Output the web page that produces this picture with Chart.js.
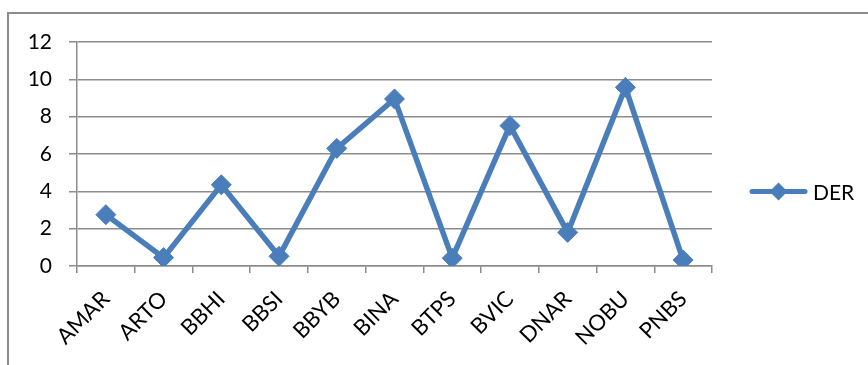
<!DOCTYPE html>
<html>
<head>
<meta charset="utf-8">
<script src="https://cdn.jsdelivr.net/npm/chart.js@4.4.1/dist/chart.umd.min.js"></script>
<style>
    html, body { margin: 0; padding: 0; background: #fff; }
    #wrap { position: relative; width: 868px; height: 365px; overflow: hidden; }
    #frame {
        position: absolute; left: 7px; top: 12px; width: 900px; height: 400px;
        border-left: 2px solid #8c8c8c; border-top: 2px solid #8c8c8c;
    }
    canvas { position: absolute; left: 0; top: 0; }
</style>
</head>
<body>
<div id="wrap">
    <div id="frame"></div>
    <canvas id="der-chart" width="868" height="365"></canvas>
</div>
<script>
const EMITEN = ["AMAR", "ARTO", "BBHI", "BBSI", "BBYB", "BINA", "BTPS", "BVIC", "DNAR", "NOBU", "PNBS"];
const DER = [2.75, 0.45, 4.35, 0.52, 6.3, 8.95, 0.42, 7.52, 1.8, 9.57, 0.32];
const SERIES_LABEL = "DER";
const Y_MIN = 0;
const Y_MAX = 12;
const Y_STEP = 2;

const BLUE = "#4a7ebb";
const GRID = "#8c8c8c";
const FONT = "Lato, 'Open Sans', sans-serif";

// legend drawn Excel-style: a short line with a diamond in the middle
const excelLegend = {
    id: "excelLegend",
    afterDraw(chart) {
        const ctx = chart.ctx;
        const area = chart.chartArea;
        const y = chart.height / 2 + 9;
        const x0 = area.right + 40;
        const x1 = x0 + 53;
        const mid = (x0 + x1) / 2;
        ctx.save();
        ctx.strokeStyle = BLUE;
        ctx.lineWidth = 5;
        ctx.lineCap = "round";
        ctx.beginPath();
        ctx.moveTo(x0, y);
        ctx.lineTo(x1, y);
        ctx.stroke();
        ctx.fillStyle = BLUE;
        ctx.beginPath();
        ctx.moveTo(mid, y - 9);
        ctx.lineTo(mid + 9, y);
        ctx.lineTo(mid, y + 9);
        ctx.lineTo(mid - 9, y);
        ctx.closePath();
        ctx.fill();
        ctx.fillStyle = "#000";
        ctx.font = "21px " + FONT;
        ctx.textBaseline = "middle";
        ctx.fillText(chart.data.datasets[0].label, x1 + 8, y + 2);
        ctx.restore();
    }
};

new Chart(document.getElementById("der-chart"), {
    type: "line",
    data: {
        labels: EMITEN,
        datasets: [{
            label: SERIES_LABEL,
            data: DER,
            borderColor: BLUE,
            backgroundColor: BLUE,
            borderWidth: 5.5,
            tension: 0,
            fill: false,
            pointStyle: "rectRot",
            pointRadius: 10,
            pointBorderWidth: 1,
            pointBorderColor: BLUE,
            pointBackgroundColor: BLUE
        }]
    },
    options: {
        responsive: false,
        animation: false,
        layout: {
            padding: { left: 0, top: 42, right: 156, bottom: 0 }
        },
        plugins: {
            legend: { display: false },
            tooltip: { enabled: false }
        },
        scales: {
            x: {
                offset: true,
                grid: {
                    offset: true,
                    drawOnChartArea: false,
                    drawTicks: true,
                    tickLength: 7,
                    color: GRID,
                    lineWidth: 1.5
                },
                border: { color: GRID, width: 1.5 },
                ticks: {
                    maxRotation: 45,
                    minRotation: 45,
                    color: "#000",
                    padding: 13,
                    font: { family: FONT, size: 22 }
                },
                afterFit(scale) {
                    scale.height = 99;
                }
            },
            y: {
                min: Y_MIN,
                max: Y_MAX,
                grid: {
                    color: GRID,
                    lineWidth: 1.5,
                    tickLength: 8
                },
                border: { color: GRID, width: 1.5 },
                ticks: {
                    stepSize: Y_STEP,
                    color: "#000",
                    padding: 17,
                    font: { family: FONT, size: 21 }
                },
                afterFit(scale) {
                    scale.width = 77;
                }
            }
        }
    },
    plugins: [excelLegend]
});
</script>
</body>
</html>
